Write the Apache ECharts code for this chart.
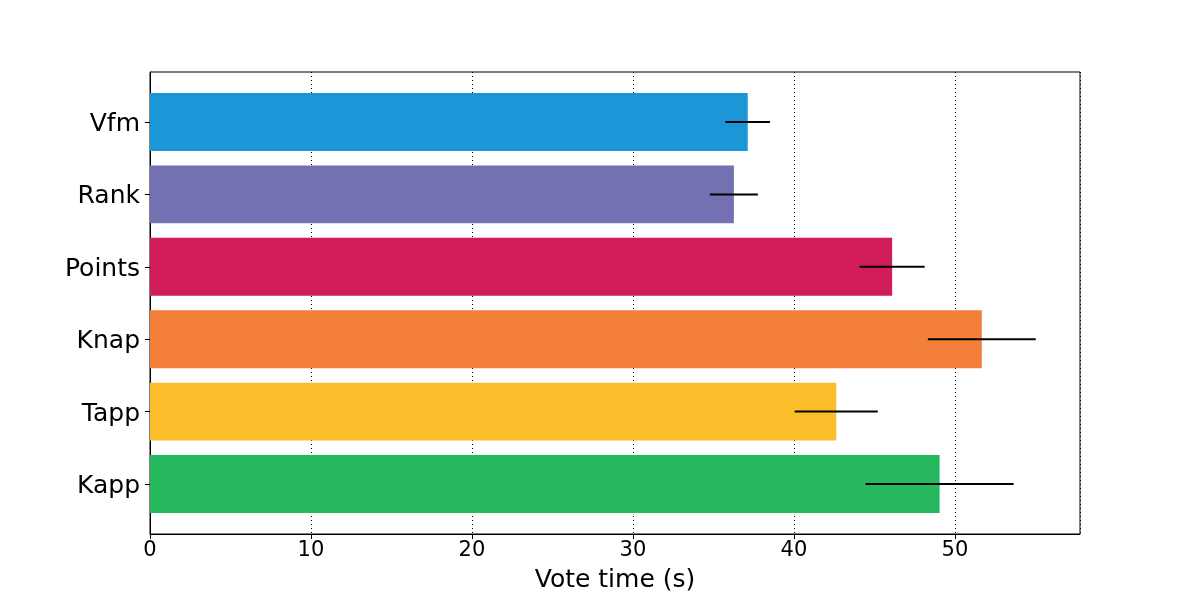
<!DOCTYPE html>
<html>
<head>
<meta charset="utf-8">
<script src="https://cdn.jsdelivr.net/npm/echarts@6/dist/echarts.min.js"></script>
<style>html,body{margin:0;padding:0;background:#fff}#c{width:1200px;height:600px}</style>
</head>
<body>
<div id="c"></div>
<script>
var categories = ['Vfm', 'Rank', 'Points', 'Knap', 'Tapp', 'Kapp'];
var values = [37.13, 36.27, 46.1, 51.67, 42.63, 49.05];
var errors = [1.38, 1.49, 2.02, 3.35, 2.58, 4.6];
var colors = ['#1b96d6', '#7371b1', '#d01c5b', '#f47f3a', '#fbbd29', '#26b85f'];
var xTicks = [0, 10, 20, 30, 40, 50];

var maxV = 0;
values.forEach(function (v, i) { maxV = Math.max(maxV, v + errors[i]); });
var xMax = maxV * 1.05;
var yMin = -0.4 - 0.29, yMax = 5.4 + 0.29;
var catIdx = categories.map(function (c, i) { return i; });

var barData = values.map(function (v, i) { return [v, i]; });
var errData = values.map(function (v, i) { return [v - errors[i], v + errors[i], i]; });

var chart = echarts.init(document.getElementById('c'));
chart.setOption({
  animation: false,
  grid: { left: 150, right: 120, top: 72, bottom: 66, show: true, borderColor: '#000', borderWidth: 1, containLabel: false },
  xAxis: {
    type: 'value', min: 0, max: xMax, interval: 10,
    name: 'Vote time (s)', nameLocation: 'middle', nameGap: 34,
    nameTextStyle: { fontSize: 25, color: '#000', fontFamily: 'DejaVu Sans' },
    axisLine: { show: true, onZero: false, lineStyle: { color: '#000', width: 1 } },
    axisTick: { show: true, length: 5, inside: false, lineStyle: { color: '#000' } },
    axisLabel: { fontSize: 21, color: '#000', margin: 6, fontFamily: 'DejaVu Sans', showMaxLabel: false },
    splitLine: { show: true, lineStyle: { color: '#000', type: [1, 3], width: 1 } }
  },
  yAxis: {
    type: 'value', min: yMin, max: yMax, inverse: true,
    axisLine: { show: true, onZero: false, lineStyle: { color: '#000', width: 1 } },
    axisTick: { show: true, length: 5, customValues: catIdx, lineStyle: { color: '#000' } },
    axisLabel: {
      fontSize: 25, color: '#000', margin: 10, fontFamily: 'DejaVu Sans',
      customValues: catIdx,
      formatter: function (v) { return '{a|' + (categories[Math.round(v)] || '') + '}'; },
      rich: { a: { fontSize: 25, color: '#000', fontFamily: 'DejaVu Sans', padding: [5, 0, 0, 0] } }
    },
    splitLine: { show: false }
  },
  series: [
    {
      type: 'custom',
      data: barData,
      encode: { x: 0, y: 1 },
      renderItem: function (params, api) {
        var v = api.value(0), i = api.value(1);
        var p0 = api.coord([0, i - 0.4]);
        var p1 = api.coord([v, i + 0.4]);
        return {
          type: 'rect',
          shape: { x: p0[0], y: Math.min(p0[1], p1[1]), width: p1[0] - p0[0], height: Math.abs(p1[1] - p0[1]) },
          style: { fill: colors[i] }
        };
      },
      z: 2
    },
    {
      type: 'custom',
      data: errData,
      encode: { x: [0, 1], y: 2 },
      renderItem: function (params, api) {
        var lo = api.value(0), hi = api.value(1), i = api.value(2);
        var a = api.coord([lo, i]), b = api.coord([hi, i]);
        return {
          type: 'line',
          shape: { x1: a[0], y1: a[1], x2: b[0], y2: b[1] },
          style: { stroke: '#000', lineWidth: 2 }
        };
      },
      z: 3
    }
  ]
});
</script>
</body>
</html>
